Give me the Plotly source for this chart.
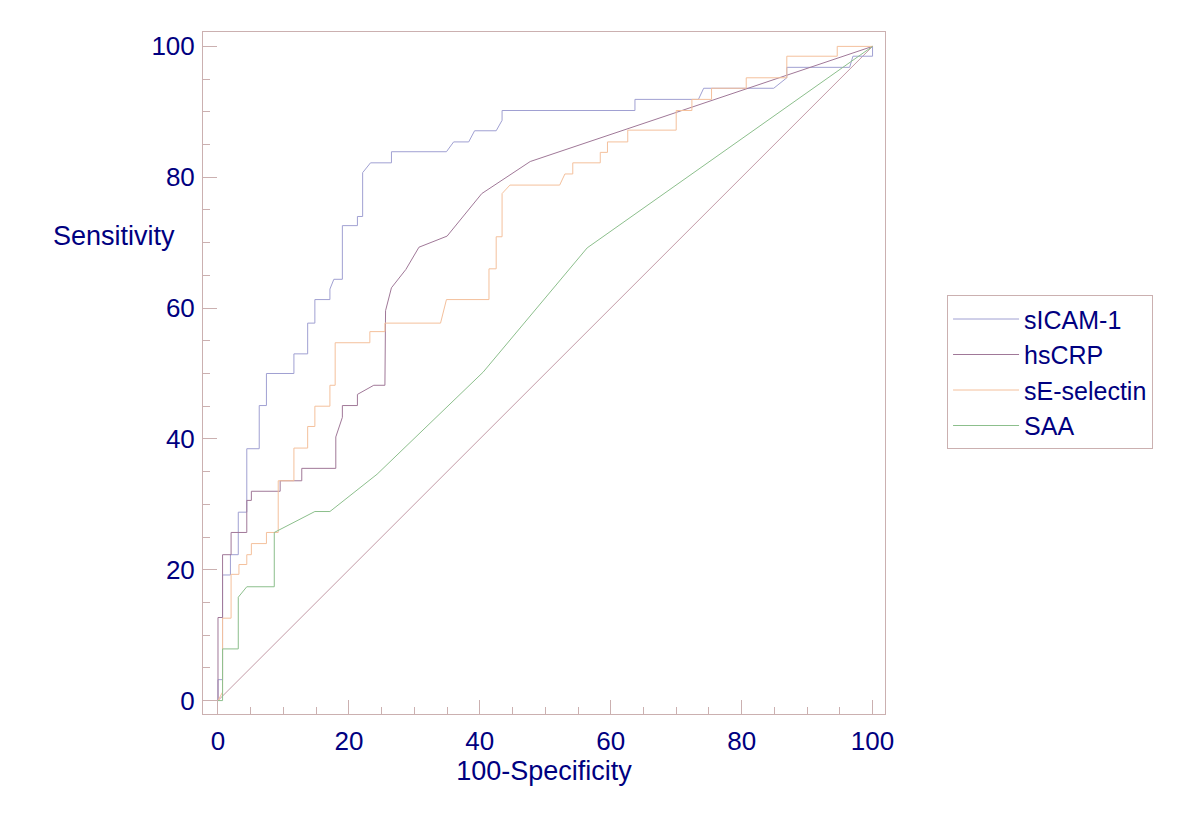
import plotly.graph_objects as go

# ---- data ----
sicam_x = [0, 0, 0.7, 0.7, 1.9, 1.9, 3.1, 3.1, 4.4, 4.4, 6.3, 6.3, 7.4, 7.4, 11.6, 11.6, 13.7, 13.7,
           14.8, 14.8, 17.1, 17.1, 17.7, 19.0, 19.0, 21.3, 21.3, 22.1, 22.1, 23.3, 26.5, 26.5, 34.9,
           36.0, 38.3, 39.2, 42.5, 43.4, 43.4, 63.7, 63.7, 73.4, 74.2, 84.9, 86.9, 86.9, 96.5, 97,
           100, 100]
sicam_y = [0, 3.2, 3.2, 19.2, 19.2, 22.3, 22.3, 28.8, 28.8, 38.5, 38.5, 45.1, 45.1, 50.0, 50.0, 53.0,
           53.0, 57.7, 57.7, 61.3, 61.3, 62.9, 64.4, 64.4, 72.6, 72.6, 74.0, 74.0, 80.7, 82.2, 82.2,
           83.9, 83.9, 85.4, 85.4, 87.1, 87.1, 88.7, 90.2, 90.2, 91.9, 91.9, 93.6, 93.6, 95.2, 96.8,
           96.8, 98.5, 98.5, 100]

hscrp_x = [0, 0, 0.7, 0.7, 2.0, 2.0, 4.4, 4.4, 5.1, 5.1, 9.5, 9.5, 12.8, 12.8, 18.0, 18.0, 19.0,
           19.0, 21.3, 21.3, 23.8, 25.5, 25.6, 26.5, 28.7, 30.7, 35.0, 40.3, 47.7, 100]
hscrp_y = [0, 12.7, 12.7, 22.3, 22.3, 25.7, 25.7, 30.6, 30.6, 32.0, 32.0, 33.6, 33.6, 35.5, 35.5,
           40.3, 43.3, 45.1, 45.1, 46.8, 48.2, 48.2, 59.6, 63.1, 65.9, 69.3, 71.0, 77.5, 82.4, 100]

sesel_x = [0, 0.7, 0.7, 2.0, 2.0, 3.2, 3.2, 4.4, 4.4, 5.1, 5.1, 7.4, 7.4, 9.2, 9.2, 11.6, 11.6,
           13.7, 13.7, 14.8, 14.8, 17.1, 17.1, 17.9, 17.9, 23.2, 23.2, 25.5, 25.5, 34.0, 34.9, 41.4,
           41.4, 42.5, 42.5, 43.4, 43.4, 44.6, 52.2, 53.0, 54.2, 54.2, 58.4, 58.4, 59.5, 59.5, 62.6,
           62.6, 70.0, 70.0, 72.4, 72.4, 75.4, 75.4, 80.7, 80.7, 86.9, 86.9, 94.6, 94.6, 100]
sesel_y = [0, 1.3, 12.6, 12.6, 19.3, 19.3, 20.8, 20.8, 22.3, 22.3, 24.0, 24.0, 25.7, 25.7, 33.6,
           33.6, 38.6, 38.6, 41.9, 41.9, 45.0, 45.0, 48.2, 48.2, 54.7, 54.7, 56.4, 56.4, 57.7, 57.7,
           61.3, 61.3, 66.0, 66.0, 70.9, 70.9, 77.5, 78.8, 78.8, 80.5, 80.5, 82.2, 82.2, 83.8, 83.8,
           85.4, 85.4, 87.2, 87.2, 90.2, 90.2, 91.9, 91.9, 93.6, 93.6, 95.2, 95.2, 98.5, 98.5, 100, 100]

saa_x = [0, 0.7, 0.7, 3.1, 3.1, 4.4, 8.6, 8.6, 14.8, 17.1, 24.3, 40.5, 56.4, 100]
saa_y = [0, 0, 7.9, 7.9, 15.8, 17.4, 17.4, 25.7, 28.9, 28.9, 34.6, 50.2, 69.2, 100]

diag_x = [0, 100]
diag_y = [0, 100]

x_ticks = [0, 20, 40, 60, 80, 100]
y_ticks = [0, 20, 40, 60, 80, 100]

# ---- style ----
TEXT = "#000080"
FRAME = "#cbb0b0"
FONT = "Liberation Sans, Arial, sans-serif"

fig = go.Figure()
fig.add_trace(go.Scatter(x=diag_x, y=diag_y, mode="lines", showlegend=False,
                         line=dict(color="#c39aa6", width=1)))
series = [
    ("sICAM-1", sicam_x, sicam_y, "#a0a0d2"),
    ("hsCRP", hscrp_x, hscrp_y, "#a07898"),
    ("sE-selectin", sesel_x, sesel_y, "#f4c09c"),
    ("SAA", saa_x, saa_y, "#8cbf8c"),
]
for name, xs, ys, col in series:
    fig.add_trace(go.Scatter(x=xs, y=ys, mode="lines", name=name,
                             line=dict(color=col, width=1)))

axis_common = dict(
    showgrid=False, zeroline=False, showline=True, linecolor=FRAME, linewidth=1, mirror=True,
    ticks="inside", ticklen=14, tickcolor=FRAME, tickwidth=1,
    minor=dict(ticks="inside", ticklen=7, tickcolor=FRAME, dtick=5, showgrid=False),
    tickfont=dict(family=FONT, size=26, color=TEXT),
)

fig.update_xaxes(range=[-2.29, 101.9], tickmode="array", tickvals=x_ticks,
                 ticktext=[str(v) for v in x_ticks], ticklabelstandoff=4,
                 title=dict(text="100-Specificity", font=dict(family=FONT, size=27, color=TEXT),
                            standoff=4),
                 **axis_common)
fig.update_yaxes(range=[-2.05, 102.2], tickmode="array", tickvals=y_ticks,
                 ticktext=[str(v) for v in y_ticks], ticklabelstandoff=2,
                 **axis_common)

fig.add_annotation(text="Sensitivity", xref="paper", yref="y", x=-0.13, y=71,
                   xanchor="center", yanchor="middle", showarrow=False,
                   font=dict(family=FONT, size=27, color=TEXT))

fig.update_layout(
    width=1200, height=819,
    margin=dict(l=195, r=323, t=24, b=113),
    plot_bgcolor="white", paper_bgcolor="white",
    font=dict(family=FONT, color=TEXT),
    legend=dict(x=1.091, y=0.614, xanchor="left", yanchor="top",
                bordercolor=FRAME, borderwidth=1, bgcolor="white",
                font=dict(family=FONT, size=25, color=TEXT), itemwidth=66),
)

fig.write_html("out.html")
